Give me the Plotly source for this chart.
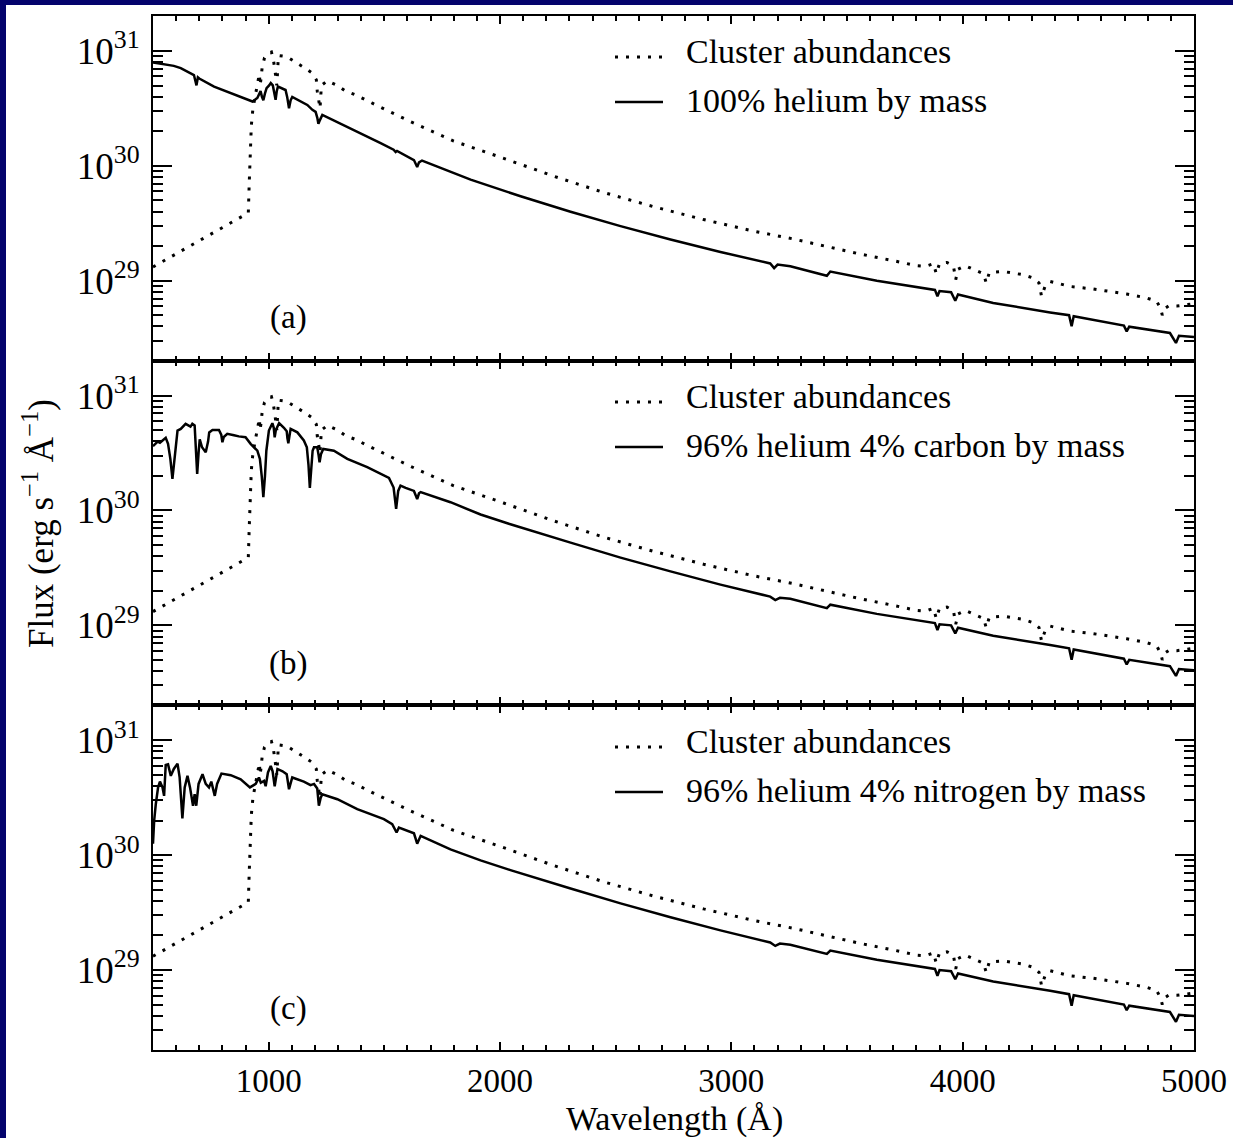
import plotly.graph_objects as go
from plotly.subplots import make_subplots

# ---------------------------------------------------------------
# Model spectra: wavelength in Angstrom, flux given as log10 of
# F_lambda in erg s^-1 A^-1
# ---------------------------------------------------------------

# Cluster abundances (same reference model drawn in every panel)
cluster_wave = [500, 912, 916, 920, 925, 932, 940, 950, 956, 960, 963, 967, 972, 982,
                1000, 1012, 1020, 1028, 1035, 1038, 1042, 1078, 1120, 1157, 1186, 1206,
                1210, 1215, 1222, 1228, 1254, 1297, 1333, 1373, 1412, 1448, 1613, 1800,
                2016, 2232, 2448, 2664, 2880, 3100, 3269, 3413, 3557, 3701, 3802, 3838,
                3874, 3886, 3900, 3932, 3960, 3970, 3980, 4011, 4060, 4090, 4102, 4115,
                4175, 4262, 4305, 4330, 4341, 4356, 4378, 4464, 4565, 4709, 4795, 4839,
                4855, 4863, 4875, 4890, 4926, 5000]
cluster_logf = [29.12, 29.59, 29.85, 30.10, 30.35, 30.50, 30.60, 30.70, 30.76, 30.80, 30.70,
                30.76, 30.86, 30.94, 30.98, 30.99, 30.93, 30.82, 30.70, 30.80, 30.96, 30.95,
                30.90, 30.85, 30.81, 30.75, 30.65, 30.57, 30.50, 30.70, 30.74, 30.70, 30.65,
                30.62, 30.58, 30.545, 30.385, 30.215, 30.065, 29.910, 29.768, 29.644, 29.532,
                29.43, 29.363, 29.298, 29.232, 29.174, 29.13, 29.124, 29.148, 29.06, 29.15,
                29.159, 29.13, 29.01, 29.10, 29.13, 29.09, 29.06, 28.98, 29.07, 29.08,
                29.052, 29.023, 28.98, 28.864, 28.95, 28.994, 28.95, 28.928, 28.884, 28.85,
                28.82, 28.76, 28.70, 28.76, 28.78, 28.78, 28.80]

# 100% helium by mass
he_wave = [500, 590, 620, 677, 683, 688, 694, 700, 764, 908, 930, 951, 965, 971, 977, 984,
           991, 1002, 1009, 1018, 1024, 1030, 1035, 1040, 1073, 1080, 1088, 1095, 1102,
           1167, 1189, 1203, 1210, 1215, 1222, 1232, 1484, 1540, 1549, 1555, 1628, 1642,
           1650, 1663, 1873, 2089, 2305, 2521, 2737, 2953, 3168, 3185, 3200, 3255, 3413,
           3428, 3629, 3816, 3880, 3891, 3900, 3950, 3968, 3980, 4132, 4378, 4460, 4471,
           4480, 4697, 4709, 4720, 4896, 4922, 4935, 5000]
he_logf = [30.90, 30.87, 30.85, 30.79, 30.74, 30.70, 30.77, 30.76, 30.69, 30.574, 30.56,
           30.59, 30.65, 30.60, 30.57, 30.63, 30.676, 30.70, 30.72, 30.70, 30.63, 30.574,
           30.65, 30.69, 30.66, 30.60, 30.50, 30.57, 30.60, 30.53, 30.487, 30.47, 30.42,
           30.365, 30.40, 30.443, 30.197, 30.14, 30.12, 30.13, 30.05, 29.99, 30.03, 30.046,
           29.880, 29.735, 29.600, 29.475, 29.358, 29.250, 29.150, 29.11, 29.14, 29.125,
           29.043, 29.08, 29.00, 28.937, 28.92, 28.864, 28.91, 28.90, 28.826, 28.88,
           28.806, 28.724, 28.70, 28.603, 28.69, 28.609, 28.559, 28.60, 28.545, 28.458,
           28.52, 28.51]

# 96% helium, 4% carbon by mass
hec_wave = [500, 512, 520, 530, 555, 565, 575, 584, 592, 600, 606, 620, 641, 662, 670, 680,
            686, 691, 697, 702, 712, 728, 738, 743, 757, 785, 795, 800, 806, 821, 850, 871,
            900, 922, 951, 962, 970, 977, 984, 990, 1001, 1016, 1022, 1026, 1031, 1045,
            1066, 1078, 1081, 1085, 1090, 1095, 1124, 1152, 1165, 1172, 1178, 1184, 1190,
            1196, 1210, 1216, 1220, 1226, 1236, 1282, 1340, 1426, 1520, 1540, 1551, 1560,
            1570, 1592, 1628, 1642, 1650, 1657, 1786, 1916, 2045, 2305, 2521, 2737, 2953,
            3168, 3190, 3210, 3255, 3413, 3428, 3629, 3816, 3880, 3891, 3900, 3950, 3968,
            3980, 4132, 4378, 4460, 4471, 4480, 4697, 4709, 4720, 4896, 4922, 4935, 5000]
hec_logf = [30.56, 30.58, 30.60, 30.59, 30.632, 30.58, 30.45, 30.276, 30.45, 30.62, 30.696,
            30.71, 30.754, 30.73, 30.754, 30.74, 30.55, 30.319, 30.50, 30.62, 30.55,
            30.507, 30.60, 30.68, 30.70, 30.70, 30.66, 30.594, 30.64, 30.667, 30.655,
            30.645, 30.638, 30.58, 30.52, 30.45, 30.30, 30.116, 30.30, 30.52, 30.696,
            30.76, 30.72, 30.637, 30.70, 30.76, 30.72, 30.69, 30.63, 30.585, 30.65, 30.71,
            30.68, 30.609, 30.55, 30.40, 30.197, 30.40, 30.52, 30.55, 30.55, 30.48, 30.42,
            30.49, 30.536, 30.52, 30.45, 30.377, 30.284, 30.20, 30.015, 30.17, 30.217,
            30.197, 30.17, 30.10, 30.15, 30.16, 30.072, 29.965, 29.880, 29.720, 29.590,
            29.470, 29.355, 29.250, 29.22, 29.24, 29.232, 29.15, 29.18, 29.10, 29.04,
            29.02, 28.96, 29.01, 29.00, 28.93, 28.98, 28.91, 28.83, 28.80, 28.70, 28.79,
            28.71, 28.66, 28.70, 28.645, 28.56, 28.62, 28.61]

# 96% helium, 4% nitrogen by mass
hen_wave = [500, 505, 512, 522, 530, 541, 548, 552, 555, 565, 577, 590, 606, 615, 627, 637,
            649, 660, 673, 680, 687, 697, 714, 728, 742, 752, 767, 777, 796, 836, 879, 919,
            944, 958, 966, 980, 987, 997, 1009, 1017, 1026, 1038, 1060, 1078, 1088, 1102,
            1124, 1152, 1181, 1196, 1210, 1217, 1225, 1232, 1297, 1383, 1498, 1534, 1553,
            1563, 1628, 1642, 1657, 1786, 1916, 2045, 2305, 2521, 2737, 2953, 3168, 3190,
            3210, 3255, 3413, 3428, 3629, 3816, 3880, 3891, 3900, 3950, 3968, 3980, 4132,
            4378, 4460, 4471, 4480, 4697, 4709, 4720, 4896, 4922, 4935, 5000]
hen_logf = [30.10, 30.30, 30.443, 30.59, 30.64, 30.59, 30.516, 30.65, 30.785, 30.79, 30.69,
            30.75, 30.797, 30.68, 30.32, 30.59, 30.69, 30.59, 30.43, 30.53, 30.43, 30.62,
            30.704, 30.62, 30.59, 30.64, 30.516, 30.62, 30.71, 30.696, 30.66, 30.59, 30.62,
            30.676, 30.63, 30.646, 30.60, 30.72, 30.776, 30.73, 30.60, 30.75, 30.73,
            30.704, 30.574, 30.676, 30.66, 30.64, 30.61, 30.62, 30.58, 30.43, 30.50,
            30.53, 30.487, 30.40, 30.313, 30.27, 30.197, 30.24, 30.19, 30.10, 30.168,
            30.05, 29.955, 29.870, 29.710, 29.580, 29.460, 29.345, 29.24, 29.21, 29.23, 29.22,
            29.14, 29.17, 29.09, 29.03, 29.01, 28.95, 29.00, 28.99, 28.92, 28.97, 28.90,
            28.82, 28.79, 28.69, 28.78, 28.70, 28.65, 28.69, 28.635, 28.55, 28.61, 28.60]

panel_models = [
    ("(a)", "100% helium by mass", he_wave, he_logf),
    ("(b)", "96% helium 4% carbon by mass", hec_wave, hec_logf),
    ("(c)", "96% helium 4% nitrogen by mass", hen_wave, hen_logf),
]
cluster_label = "Cluster abundances"

y_major = [1e29, 1e30, 1e31]
y_major_text = ["10<sup>29</sup>", "10<sup>30</sup>", "10<sup>31</sup>"]
y_minor = [m * 10.0 ** e for e in (28, 29, 30, 31) for m in range(2, 10)]
x_major = [1000, 2000, 3000, 4000, 5000]

# ---------------------------------------------------------------
# Page geometry (pixels, measured from the top-left corner)
# ---------------------------------------------------------------
W, H = 1233, 1138
L, R, T, B = 153, 1194, 16, 1050
FONT = "Liberation Serif, Times New Roman, serif"
NAVY = "#04036c"


def px_x(x):
    return (x - L) / (R - L)


def px_y(y):
    return 1 - (y - T) / (B - T)


fig = make_subplots(rows=3, cols=1, vertical_spacing=0)

for i, (tag, label, wave, logf) in enumerate(panel_models, start=1):
    fig.add_trace(go.Scatter(
        x=cluster_wave, y=[10 ** v for v in cluster_logf], mode="lines",
        line=dict(color="black", width=3, dash="3px,8px"),
        showlegend=False, hoverinfo="skip"), row=i, col=1)
    fig.add_trace(go.Scatter(
        x=wave, y=[10 ** v for v in logf], mode="lines",
        line=dict(color="black", width=2.5),
        showlegend=False, hoverinfo="skip"), row=i, col=1)

    fig.update_xaxes(
        row=i, col=1, range=[500, 5000], showgrid=False, zeroline=False,
        showline=True, linewidth=2, linecolor="black", mirror="ticks",
        ticks="inside", ticklen=8, tickwidth=2, tickcolor="black",
        tickmode="array", tickvals=x_major, showticklabels=(i == 3),
        tickfont=dict(family=FONT, size=33, color="black"),
        minor=dict(ticks="inside", ticklen=5, tickwidth=1.5, tickcolor="black",
                   tickmode="linear", tick0=0, dtick=100, showgrid=False),
    )
    fig.update_yaxes(
        row=i, col=1, type="log", range=[28.304, 31.304], showgrid=False,
        zeroline=False, showline=True, linewidth=2, linecolor="black",
        mirror="ticks", ticks="inside", ticklen=19, tickwidth=2, tickcolor="black",
        tickmode="array", tickvals=y_major, ticktext=y_major_text,
        ticklabelstandoff=4,
        tickfont=dict(family=FONT, size=37, color="black"),
        minor=dict(ticks="inside", ticklen=10, tickwidth=1.5, tickcolor="black",
                   tickmode="array", tickvals=y_minor, showgrid=False),
    )

shapes = [
    # dark frame strips along the left and top page edges
    dict(type="rect", xref="paper", yref="paper", layer="below",
         x0=px_x(0), x1=px_x(6), y0=px_y(0), y1=px_y(H),
         fillcolor=NAVY, line=dict(width=0)),
    dict(type="rect", xref="paper", yref="paper", layer="below",
         x0=px_x(0), x1=px_x(W), y0=px_y(0), y1=px_y(5),
         fillcolor=NAVY, line=dict(width=0)),
]
annotations = []

for k, (tag, label, wave, logf) in enumerate(panel_models):
    dy = k * 345
    # legend samples
    shapes.append(dict(type="line", xref="paper", yref="paper",
                       x0=px_x(615), x1=px_x(663), y0=px_y(57 + dy), y1=px_y(57 + dy),
                       line=dict(color="black", width=3, dash="3px,8px")))
    shapes.append(dict(type="line", xref="paper", yref="paper",
                       x0=px_x(615), x1=px_x(663), y0=px_y(102 + dy), y1=px_y(102 + dy),
                       line=dict(color="black", width=2.5)))
    for text, yy in ((cluster_label, 51 + dy), (label, 100 + dy)):
        annotations.append(dict(
            text=text, xref="paper", yref="paper", x=px_x(684), y=px_y(yy),
            xanchor="left", yanchor="middle", showarrow=False,
            font=dict(family=FONT, size=34, color="black")))
    annotations.append(dict(
        text=tag, xref="paper", yref="paper", x=px_x(288), y=px_y(318 + dy),
        xanchor="center", yanchor="middle", showarrow=False,
        font=dict(family=FONT, size=33, color="black")))

annotations.append(dict(
    text="Flux (erg s<sup>\u22121</sup> \u00c5<sup>\u22121</sup>)",
    xref="paper", yref="paper", x=px_x(38), y=px_y(524), textangle=-90,
    xanchor="center", yanchor="middle", showarrow=False,
    font=dict(family=FONT, size=35, color="black")))
annotations.append(dict(
    text="Wavelength (\u00c5)", xref="paper", yref="paper",
    x=px_x(674), y=px_y(1119), xanchor="center", yanchor="middle",
    showarrow=False, font=dict(family=FONT, size=34, color="black")))

fig.update_layout(
    width=W, height=H,
    margin=dict(l=L, r=W - R, t=T, b=H - B, autoexpand=False),
    paper_bgcolor="white", plot_bgcolor="white",
    shapes=shapes, annotations=annotations, showlegend=False,
)

fig.write_html("out.html")
